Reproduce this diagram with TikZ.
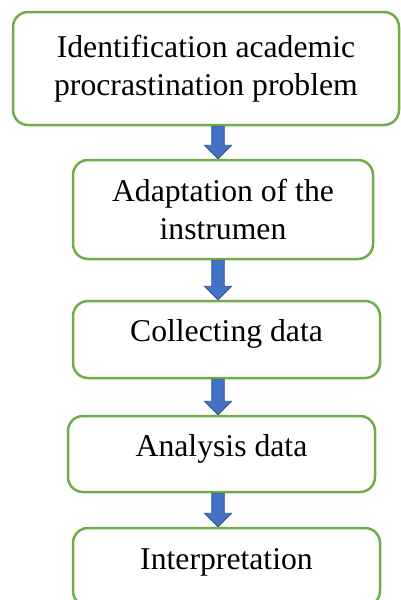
\documentclass[tikz,border=0pt]{standalone}
\usepackage{fontspec}
\setmainfont{Liberation Serif}
\usetikzlibrary{positioning, calc}
\definecolor{boxgreen}{RGB}{112,173,71}
\definecolor{arrowfill}{RGB}{68,114,196}
\definecolor{arrowedge}{RGB}{47,82,143}

\begin{document}
\begin{tikzpicture}[
  x=1pt, y=-1pt,
  stepbox/.style={draw=boxgreen, line width=2.5pt, rounded corners=15pt, fill=white, align=center, inner sep=0pt, font=\fontsize{31.7}{37.6}\selectfont},
  oneline/.style={text height=22pt, text depth=17.5pt},
  blockarrow/.style={draw=arrowedge, fill=arrowfill, line width=0.9pt, to path={
    ($(\tikztostart)+(-6.25pt,0)$) -- ($(\tikztotarget)+(-6.25pt,13.5pt)$) -- ($(\tikztotarget)+(-13.5pt,13.5pt)$) -- (\tikztotarget)
    -- ($(\tikztotarget)+(13.5pt,13.5pt)$) -- ($(\tikztotarget)+(6.25pt,13.5pt)$) -- ($(\tikztostart)+(6.25pt,0)$) -- cycle}}
]
\useasboundingbox (0,0) rectangle (400,600);

% Steps
\node[stepbox, minimum width=386pt, minimum height=113pt] (ident) at (206,68.5) {Identification academic\\procrastination problem};
\node[stepbox, minimum width=300pt, minimum height=99pt, below=32.5pt of ident, xshift=17pt] (adapt) {Adaptation of the\\instrumen};
\node[stepbox, oneline, minimum width=307pt, minimum height=77pt, below=39.5pt of adapt, xshift=3.5pt] (collect) {Collecting data};
\node[stepbox, oneline, minimum width=307pt, minimum height=76pt, below=35.5pt of collect, xshift=-5pt] (analysis) {Analysis data};
\node[stepbox, oneline, minimum width=307pt, minimum height=78pt, below=33.5pt of analysis, xshift=5pt] (interp) {Interpretation};

% Block arrows
\coordinate (spine) at (218,0);
\draw[blockarrow] (ident.south -| spine) to (adapt.north -| spine);
\draw[blockarrow] (adapt.south -| spine) to (collect.north -| spine);
\draw[blockarrow] (collect.south -| spine) to (analysis.north -| spine);
\draw[blockarrow] (analysis.south -| spine) to (interp.north -| spine);
\end{tikzpicture}
\end{document}
